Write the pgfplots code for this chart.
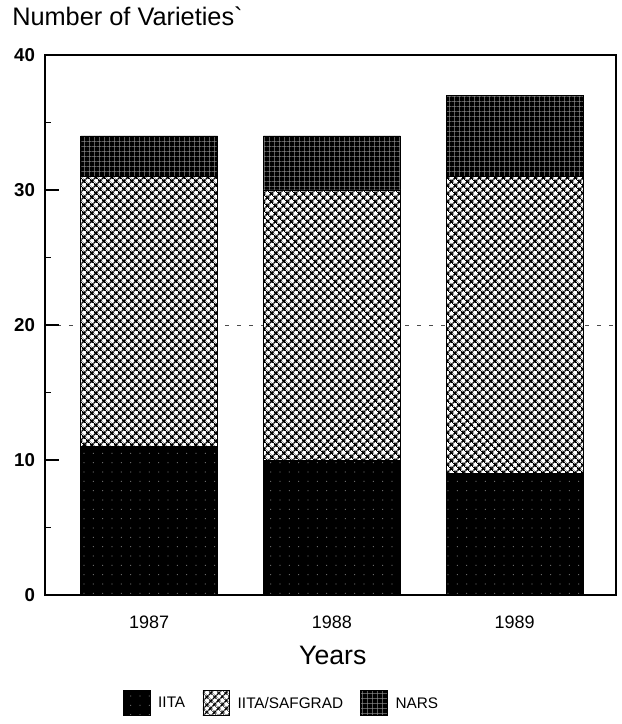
\documentclass[border=0pt]{standalone}
\usepackage{fontspec}
\setmainfont{Liberation Sans}
\usepackage{pgfplots}
\usepackage{pgfplotstable}
\pgfplotsset{compat=1.18}
\usetikzlibrary{patterns.meta}

\pgfplotstableread{
x ITA SAF NARS
0 11 20 3
1 10 20 4
2 9 22 6
}\datatable

\begin{document}
\begin{tikzpicture}
\useasboundingbox (-33.75pt,-96.75pt) rectangle (432pt,446.25pt);
\begin{axis}[
  at={(0,0)}, anchor=south west,
  scale only axis, width=428.25pt, height=405pt,
  ybar stacked, bar width=0.75,
  xmin=-0.57, xmax=2.555, ymin=0, ymax=40,
  xtick={0,1,2}, xticklabels={1987,1988,1989},
  xtick style={draw=none},
  ytick={0,10,20,30,40}, minor ytick={5,15,25,35},
  ytick pos=left, tick align=inside,
  major tick length=10.5pt, minor tick length=4.5pt,
  ytick style={black, line width=0.8pt},
  axis line style={line width=0.9pt},
  /pgf/number format/assume math mode=true,
  yticklabel style={font=\fontsize{14}{16}\selectfont\bfseries, xshift=-4pt},
  xticklabel style={font=\fontsize{13.5}{16}\selectfont, yshift=-12pt},
  title={Number of Varieties\textasciigrave},
  title style={at={(axis description cs:-0.0578,1.0407)}, anchor=base west, inner sep=0pt, font=\fontsize{19}{23}\selectfont},
  xlabel={Years},
  xlabel style={at={(axis description cs:0.504,-0.1296)}, anchor=base, font=\fontsize{20}{24}\selectfont},
  extra y ticks={20}, extra y tick labels={},
  extra y tick style={grid=major, major grid style={black!70, dash pattern=on 3pt off 6pt, line width=0.5pt}},
  legend style={at={(axis description cs:0.415,-0.2)}, anchor=center, draw=none, fill=none,
    legend columns=3, font=\fontsize{11.5}{14}\selectfont,
    /tikz/every odd column/.append style={column sep=4pt},
    /tikz/every even column/.append style={column sep=11pt}},
  legend image code/.code={\draw[#1] (0pt,-9pt) rectangle (20pt,10pt);},
]
\addplot[draw=black, fill=black,
  postaction={pattern={Dots[distance=7pt,radius=0.45pt]}, pattern color=black!55}]
  table[x=x,y=ITA]{\datatable};
\addlegendentry{IITA}
\addplot[draw=black, fill=white,
  postaction={pattern={Hatch[angle=45,distance=4pt,line width=1.2pt]}, pattern color=black}]
  table[x=x,y=SAF]{\datatable};
\addlegendentry{IITA/SAFGRAD}
\addplot[draw=black, fill=black,
  postaction={pattern={Hatch[angle=0,distance=4pt,line width=0.4pt]}, pattern color=black!45}]
  table[x=x,y=NARS]{\datatable};
\addlegendentry{NARS}
\end{axis}
\end{tikzpicture}
\end{document}
